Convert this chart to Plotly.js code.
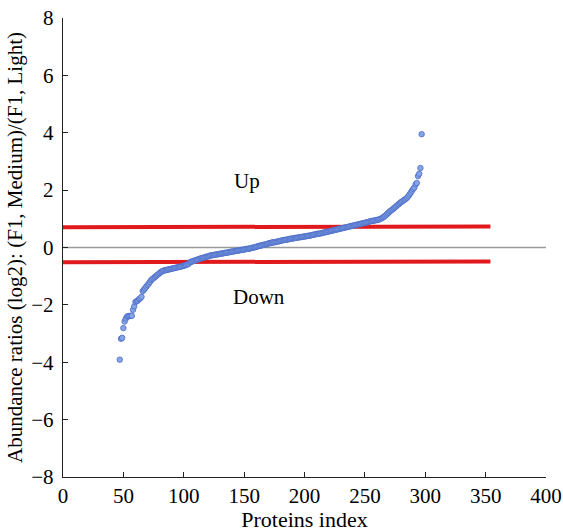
<!DOCTYPE html>
<html>
<head>
<meta charset="utf-8">
<script src="https://cdn.plot.ly/plotly-3.0.1.min.js"></script>
<style>html,body{margin:0;padding:0;background:#fff;}#chart{width:563px;height:532px;}</style>
</head>
<body>
<div id="chart"></div>
<script>
// Protein index (x) and log2 abundance ratio (y)
var proteinIndex = [];
for (var i = 47; i <= 297; i++) proteinIndex.push(i);
var ratios = [
 -3.91,-3.18,-3.15,-2.81,-2.58,-2.48,-2.41,-2.39,-2.39,-2.38,-2.38,-2.17,-2.05,
 -1.90,-1.87,-1.85,-1.80,-1.77,-1.72,-1.52,-1.47,-1.42,-1.36,-1.31,-1.26,-1.20,
 -1.14,-1.10,-1.07,-1.03,-1.00,-0.96,-0.93,-0.89,-0.86,-0.83,-0.81,-0.80,-0.79,
 -0.78,-0.77,-0.76,-0.75,-0.74,-0.73,-0.72,-0.71,-0.70,-0.69,-0.68,-0.67,-0.66,
 -0.65,-0.64,-0.62,-0.61,-0.59,-0.57,
 -0.52,-0.50,-0.49,-0.47,-0.46,-0.44,-0.43,-0.41,-0.40,-0.38,-0.37,-0.36,-0.35,
 -0.33,-0.32,-0.31,-0.30,-0.28,
 -0.27,-0.27,-0.26,-0.25,-0.24,-0.24,-0.23,-0.22,-0.21,-0.21,-0.20,-0.19,-0.18,
 -0.18,-0.17,-0.16,
 -0.15,-0.14,-0.14,-0.13,-0.12,-0.11,-0.11,-0.10,-0.09,-0.08,-0.08,-0.07,-0.06,
 -0.05,-0.05,-0.04,-0.03,
 -0.02,-0.01,0.00,0.01,0.02,0.04,0.05,0.06,0.07,0.08,0.09,0.10,0.11,0.12,0.14,0.15,
 0.16,0.17,0.18,0.18,0.19,0.20,0.21,0.22,0.23,0.24,0.25,0.26,0.27,0.27,0.28,0.29,0.30,
 0.31,0.31,0.32,0.33,0.34,0.34,0.35,0.36,0.36,0.37,0.38,0.38,0.39,0.40,0.41,0.41,0.42,
 0.43,0.44,0.45,0.46,0.47,0.48,0.48,0.49,0.50,0.51,0.52,0.53,0.54,0.55,0.56,0.57,
 0.58,0.59,0.60,0.61,0.62,0.63,0.64,0.65,0.66,0.67,0.68,0.69,0.70,0.71,0.72,0.73,0.74,
 0.75,0.76,0.77,0.78,0.79,0.80,0.81,0.82,0.83,0.84,0.85,0.86,0.87,0.88,0.89,0.91,
 0.92,0.93,0.93,0.94,0.95,0.96,0.97,0.98,
 1.00,1.02,1.05,1.08,1.11,1.15,1.19,1.23,1.27,1.30,1.33,1.37,1.40,1.44,1.48,1.51,
 1.55,1.58,1.61,1.64,1.67,1.70,1.74,1.79,1.85,1.91,1.98,2.04,2.09,2.20,2.25,2.49,
 2.57,2.77,3.95
];

// Threshold lines
var upLineX = [0, 354];
var upLineY = [0.71, 0.73];
var downLineX = [0, 354];
var downLineY = [-0.51, -0.49];
var zeroLineX = [0, 400];
var zeroLineY = [0, 0];

var xTicks = [0, 50, 100, 150, 200, 250, 300, 350, 400];
var yTicks = [-8, -6, -4, -2, 0, 2, 4, 6, 8];

var serif = "'Liberation Serif', 'Times New Roman', Times, serif";

var traces = [
  {x: zeroLineX, y: zeroLineY, mode: "lines", line: {color: "#9a9a9a", width: 1.5}, hoverinfo: "skip"},
  {x: upLineX, y: upLineY, mode: "lines", line: {color: "#e0191c", width: 4}, hoverinfo: "skip"},
  {x: downLineX, y: downLineY, mode: "lines", line: {color: "#e0191c", width: 4}, hoverinfo: "skip"},
  {x: proteinIndex, y: ratios, mode: "markers",
   marker: {size: 5.5, color: "#86a4e6", line: {color: "#4a6bc6", width: 0.8}}}
];

var layout = {
  width: 563, height: 532,
  margin: {l: 63, r: 17, t: 18, b: 55},
  paper_bgcolor: "#ffffff", plot_bgcolor: "#ffffff",
  showlegend: false,
  font: {family: serif, color: "#000", size: 19},
  xaxis: {
    range: [0, 400], tickvals: xTicks, ticktext: xTicks.map(String),
    showgrid: false, zeroline: false, showline: true, linecolor: "#222", linewidth: 1.2,
    ticks: "inside", ticklen: 5, tickcolor: "#222",
    tickfont: {family: serif, size: 21}, ticklabelstandoff: 0,
    title: {text: "Proteins index", font: {family: serif, size: 22}, standoff: 2}
  },
  yaxis: {
    range: [-8, 8], tickvals: yTicks,
    showgrid: false, zeroline: false, showline: true, linecolor: "#222", linewidth: 1.2,
    ticks: "inside", ticklen: 5, tickcolor: "#222",
    tickfont: {family: serif, size: 21}, ticklabelstandoff: 4,
    title: {text: "Abundance ratios (log2): (F1, Medium)/(F1, Light)", font: {family: serif, size: 21}, standoff: 3}
  },
  annotations: [
    {x: 152, y: 2.32, text: "Up", showarrow: false, font: {family: serif, size: 21}},
    {x: 162, y: -1.72, text: "Down", showarrow: false, font: {family: serif, size: 21}}
  ]
};

Plotly.newPlot("chart", traces, layout, {displayModeBar: false, staticPlot: true});
</script>
</body>
</html>
